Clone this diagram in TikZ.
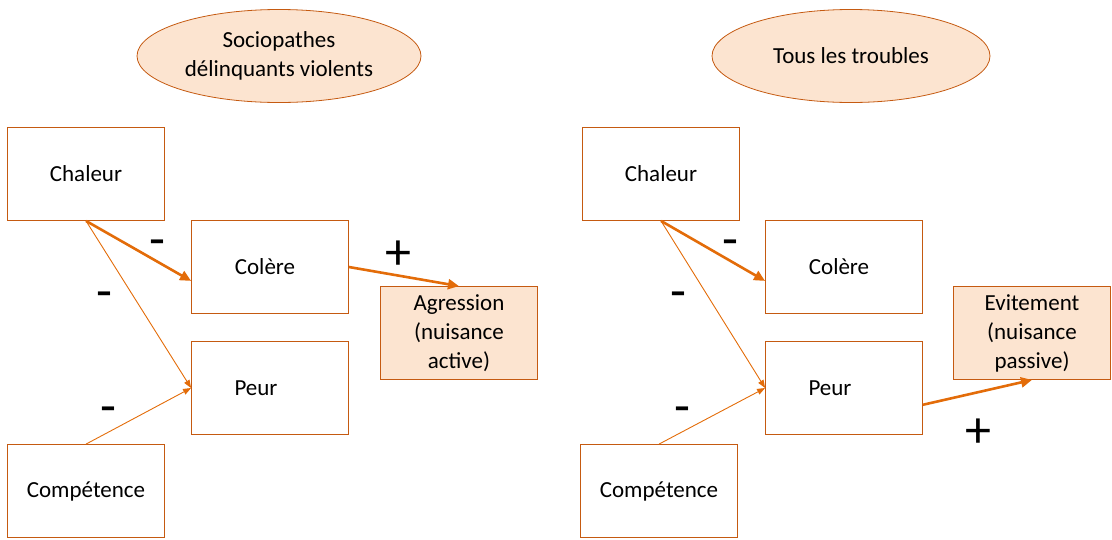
\documentclass[tikz,border=0pt]{standalone}
\usepackage{fontspec}
\setmainfont{Carlito}
\usetikzlibrary{arrows.meta,shapes.geometric}

\definecolor{borange}{RGB}{197,90,17}
\definecolor{aorange}{RGB}{227,108,9}
\definecolor{lorange}{RGB}{252,228,208}

\tikzset{
  box/.style={draw=borange,thick,minimum width=157pt,minimum height=93pt,inner sep=0pt,align=center,font=\fontsize{23}{29}\selectfont},
  effet/.style={box,fill=lorange},
  groupe/.style={ellipse,draw=borange,thick,fill=lorange,inner sep=0pt,align=center,font=\fontsize{23}{29}\selectfont},
  fort/.style={aorange,line width=2.6pt,-{Triangle[length=11pt,width=10pt]}},
  faible/.style={aorange,line width=0.9pt,-{Triangle[length=8pt,width=6pt]}},
  signe/.style={font=\fontsize{52}{52}\selectfont,inner sep=0pt}
}

\begin{document}
\begin{tikzpicture}[x=1pt,y=-1pt]
  \useasboundingbox (0,0) rectangle (1112,539);
  % sociopathes
  \node[groupe,minimum width=284pt,minimum height=93pt] (gA) at (279,56) {Sociopathes\\délinquants violents};
  \node[box] (chalA) at (86,174) {Chaleur};
  \node[box] (colA) at (270,267) {Colère\hspace*{10pt}};
  \node[box] (peurA) at (270,388) {Peur\hspace*{28pt}};
  \node[box] (compA) at (86,491) {Compétence};
  \node[effet] (agrA) at (459,333) {Agression\\(nuisance\\active)};
  \draw[fort] (chalA.south) -- (colA.190);
  \draw[faible] (chalA.south) -- (peurA.west);
  \draw[faible] (compA.north) -- (peurA.west);
  \draw[fort] (colA.east) -- (agrA.north);
  \node[signe] (mA1) at (157,248) {-};
  \node[signe] (mA2) at (104,300) {-};
  \node[signe] (mA3) at (108,415) {-};
  \node[signe] (pA) at (398,255) {+};
  % tous les troubles
  \node[groupe,minimum width=278pt,minimum height=93pt] (gB) at (851,56) {Tous les troubles};
  \node[box] (chalB) at (661,174) {Chaleur};
  \node[box] (colB) at (844,267) {Colère\hspace*{10pt}};
  \node[box] (peurB) at (844,388) {Peur\hspace*{28pt}};
  \node[box] (compB) at (659,491) {Compétence};
  \node[effet] (eviB) at (1032,333) {Evitement\\(nuisance\\passive)};
  \draw[fort] (chalB.south) -- (colB.190);
  \draw[faible] (chalB.south) -- (peurB.west);
  \draw[faible] (compB.north) -- (peurB.west);
  \draw[fort] (peurB.348) -- (eviB.south);
  \node[signe] (mB1) at (730,248) {-};
  \node[signe] (mB2) at (678,300) {-};
  \node[signe] (mB3) at (682,415) {-};
  \node[signe] (pB) at (978,433) {+};
\end{tikzpicture}
\end{document}
